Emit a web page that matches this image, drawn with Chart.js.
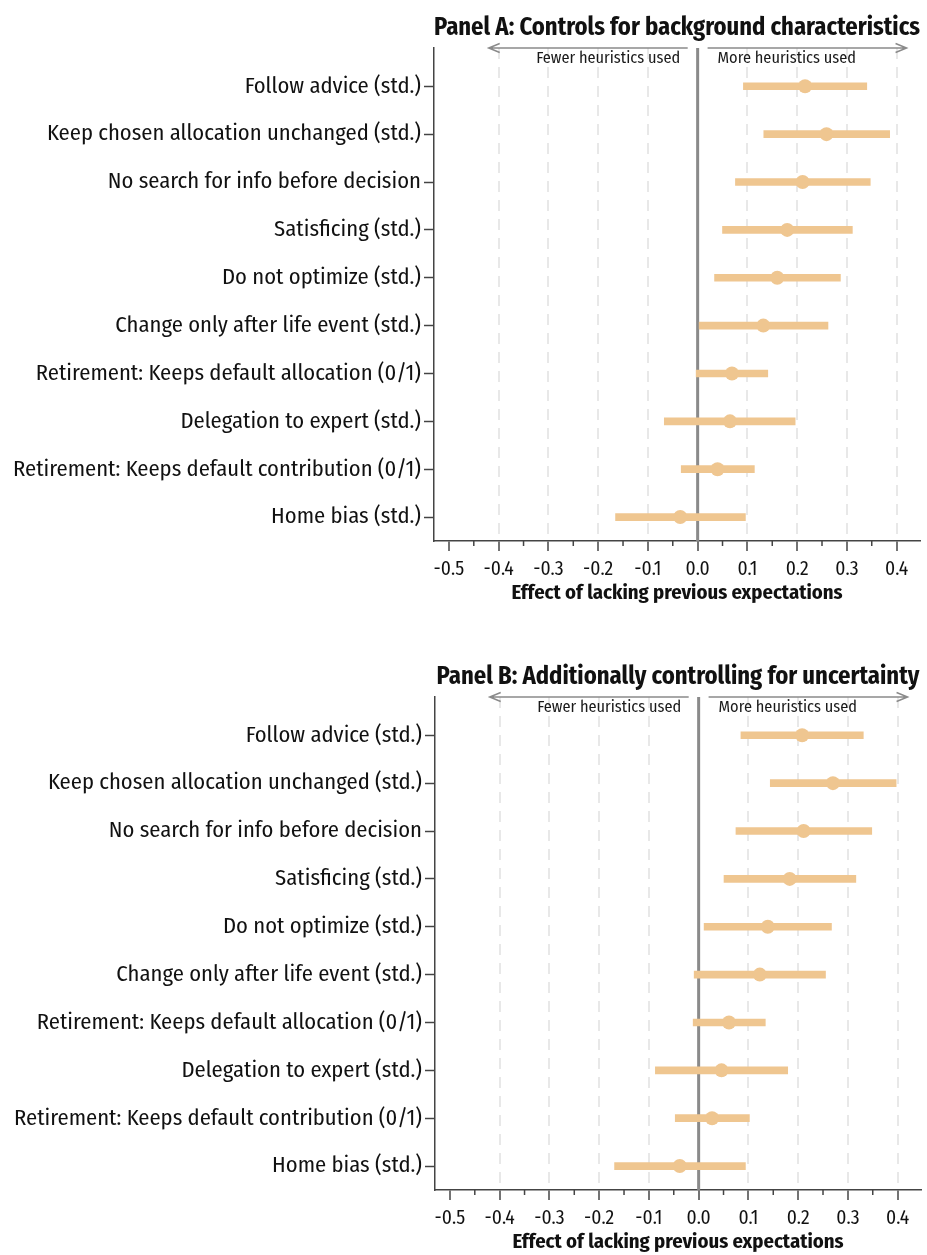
<!DOCTYPE html>
<html>
<head>
<meta charset="utf-8">
<script src="https://cdn.jsdelivr.net/npm/chart.js@4.4.1/dist/chart.umd.min.js"></script>
<style>
  html, body { margin: 0; padding: 0; background: #ffffff; overflow: hidden; width: 927px; height: 1255px; }
  .panel { position: absolute; left: 0; width: 927px; height: 606px; }
  #panelA { top: 0; }
  #panelB { top: 649px; left: 1px; }
</style>
</head>
<body>
<div class="panel" id="panelA"><canvas id="chartA"></canvas></div>
<div class="panel" id="panelB"><canvas id="chartB"></canvas></div>
<script>
// Outcome measures, listed top to bottom
const outcomes = [
  'Follow advice (std.)',
  'Keep chosen allocation unchanged (std.)',
  'No search for info before decision',
  'Satisficing (std.)',
  'Do not optimize (std.)',
  'Change only after life event (std.)',
  'Retirement: Keeps default allocation (0/1)',
  'Delegation to expert (std.)',
  'Retirement: Keeps default contribution (0/1)',
  'Home bias (std.)'
];

const panelTitles = [
  'Panel A: Controls for background characteristics',
  'Panel B: Additionally controlling for uncertainty'
];

// Panel A: point estimates and 95% confidence bounds
const estimateA = [0.216, 0.259, 0.211, 0.180, 0.160, 0.132, 0.069, 0.065, 0.040, -0.035];
const lowerA    = [0.092, 0.133, 0.076, 0.050, 0.034, 0.003, -0.003, -0.067, -0.033, -0.165];
const upperA    = [0.340, 0.386, 0.347, 0.311, 0.287, 0.262, 0.141, 0.196, 0.114, 0.096];

// Panel B: point estimates and 95% confidence bounds
const estimateB = [0.208, 0.270, 0.211, 0.183, 0.139, 0.123, 0.061, 0.046, 0.027, -0.038];
const lowerB    = [0.085, 0.144, 0.075, 0.051, 0.011, -0.009, -0.011, -0.087, -0.047, -0.169];
const upperB    = [0.331, 0.397, 0.348, 0.316, 0.267, 0.255, 0.134, 0.179, 0.102, 0.094];

// Horizontal axis ticks
const xTickValues = [-0.5, -0.4, -0.3, -0.2, -0.1, 0.0, 0.1, 0.2, 0.3, 0.4];
const xTickLabels = ['-0.5', '-0.4', '-0.3', '-0.2', '-0.1', '0.0', '0.1', '0.2', '0.3', '0.4'];
const xMinorTickValues = [-0.45, -0.35, -0.25, -0.15, -0.05, 0.05, 0.15, 0.25, 0.35];
const xAxisTitle = 'Effect of lacking previous expectations';
const directionLabels = ['Fewer heuristics used', 'More heuristics used'];

// ---- styling ----
const FONT = "'Fira Sans Condensed', 'Liberation Sans Narrow', 'DejaVu Sans Condensed', 'Roboto Condensed', 'Noto Sans', sans-serif";
const SAND = '#EFC690';
const AXIS = '#444444';
const ZERO = '#8a8a8a';
const GRID = '#e8e8e8';
const X_RANGE = [-0.53, 0.447];
const Y_RANGE = [-0.8, 9.5];

// arrow shafts (in data units) and anchors for the direction labels
const arrowSpans = [[-0.02, -0.42], [0.02, 0.42]];
const directionAnchors = [-0.035, 0.04];

const decorPlugin = {
  id: 'decor',
  beforeDatasetsDraw(chart) {
    const { ctx, chartArea } = chart;
    const xs = chart.scales.x;
    const x0 = xs.getPixelForValue(0);
    ctx.save();
    // zero reference line
    ctx.strokeStyle = ZERO;
    ctx.lineWidth = 3;
    ctx.beginPath();
    ctx.moveTo(x0, chartArea.top);
    ctx.lineTo(x0, chartArea.bottom);
    ctx.stroke();

    // direction arrows along the top edge
    const yA = chartArea.top;
    ctx.lineWidth = 1.5;
    ctx.strokeStyle = '#8a8a8a';
    arrowSpans.forEach(([from, to]) => {
      const a = xs.getPixelForValue(from);
      const b = xs.getPixelForValue(to);
      const dir = Math.sign(b - a);
      ctx.beginPath();
      ctx.moveTo(a, yA);
      ctx.lineTo(b, yA);
      ctx.moveTo(b - dir * 11, yA - 4.5);
      ctx.lineTo(b, yA);
      ctx.lineTo(b - dir * 11, yA + 4.5);
      ctx.stroke();
    });

    // direction labels
    ctx.fillStyle = '#1a1a1a';
    ctx.font = '16.3px ' + FONT;
    ctx.textBaseline = 'middle';
    ctx.textAlign = 'right';
    ctx.fillText(directionLabels[0], xs.getPixelForValue(directionAnchors[0]), yA + 10.5);
    ctx.textAlign = 'left';
    ctx.fillText(directionLabels[1], xs.getPixelForValue(directionAnchors[1]), yA + 10.5);
    ctx.restore();
  },
  afterDraw(chart) {
    // minor tick marks on the horizontal axis
    const { ctx, chartArea } = chart;
    const xs = chart.scales.x;
    ctx.save();
    ctx.strokeStyle = AXIS;
    ctx.lineWidth = 1.5;
    ctx.beginPath();
    xMinorTickValues.forEach(v => {
      const px = xs.getPixelForValue(v);
      ctx.moveTo(px, chartArea.bottom);
      ctx.lineTo(px, chartArea.bottom + 5);
    });
    ctx.stroke();
    ctx.restore();
  }
};

function buildPanel(canvasId, title, est, lo, hi) {
  return new Chart(document.getElementById(canvasId), {
    type: 'bar',
    data: {
      datasets: [
        {
          type: 'scatter',
          data: outcomes.map((_, i) => ({ x: est[i], y: i })),
          backgroundColor: SAND,
          borderWidth: 0,
          pointRadius: 7,
          pointHoverRadius: 7,
          order: 1
        },
        {
          type: 'bar',
          data: outcomes.map((_, i) => ({ x: [lo[i], hi[i]], y: i })),
          backgroundColor: SAND,
          borderWidth: 0,
          borderSkipped: false,
          barThickness: 7,
          order: 2
        }
      ]
    },
    options: {
      indexAxis: 'y',
      responsive: true,
      maintainAspectRatio: false,
      animation: false,
      events: [],
      layout: { padding: { left: 0, right: 4, top: 0, bottom: 0 } },
      plugins: {
        legend: { display: false },
        tooltip: { enabled: false },
        title: {
          display: true,
          text: title,
          fullSize: false,
          color: '#111111',
          font: { family: FONT, size: 24.5, weight: 'bold' },
          padding: { top: 13, bottom: 5.6 }
        }
      },
      scales: {
        x: {
          type: 'linear',
          position: 'bottom',
          min: X_RANGE[0],
          max: X_RANGE[1],
          offset: false,
          afterBuildTicks: s => { s.ticks = xTickValues.map(v => ({ value: v })); },
          afterFit: s => { s.height = 65; },
          ticks: {
            autoSkip: false,
            maxRotation: 0,
            padding: 7,
            color: '#111111',
            font: { family: FONT, size: 19.5 },
            callback: (v, i) => xTickLabels[i]
          },
          grid: {
            display: true,
            offset: false,
            drawOnChartArea: true,
            color: c => (c.tick && Math.abs(c.tick.value) > 1e-9 && c.tick.value > -0.45) ? GRID : 'rgba(0,0,0,0)',
            lineWidth: 2,
            drawTicks: true,
            tickLength: 10,
            tickColor: AXIS,
            tickWidth: 1.5
          },
          border: { display: true, color: AXIS, width: 1.5, dash: [11, 8] },
          title: {
            display: true,
            text: xAxisTitle,
            color: '#111111',
            font: { family: FONT, size: 20.6, weight: 'bold' },
            padding: { top: 0, bottom: 0 }
          }
        },
        y: {
          type: 'linear',
          position: 'left',
          reverse: true,
          min: Y_RANGE[0],
          max: Y_RANGE[1],
          offset: false,
          afterBuildTicks: s => { s.ticks = outcomes.map((_, i) => ({ value: i })); },
          afterFit: s => { s.width = 434; },
          ticks: {
            autoSkip: false,
            padding: 3,
            color: '#111111',
            font: { family: FONT, size: 22.6 },
            callback: (v, i) => outcomes[i]
          },
          grid: {
            display: true,
            offset: false,
            drawOnChartArea: false,
            drawTicks: true,
            tickLength: 10,
            tickColor: AXIS,
            tickWidth: 1.5
          },
          border: { display: true, color: AXIS, width: 1.5 }
        }
      }
    },
    plugins: [decorPlugin]
  });
}

buildPanel('chartA', panelTitles[0], estimateA, lowerA, upperA);
buildPanel('chartB', panelTitles[1], estimateB, lowerB, upperB);
</script>
</body>
</html>
